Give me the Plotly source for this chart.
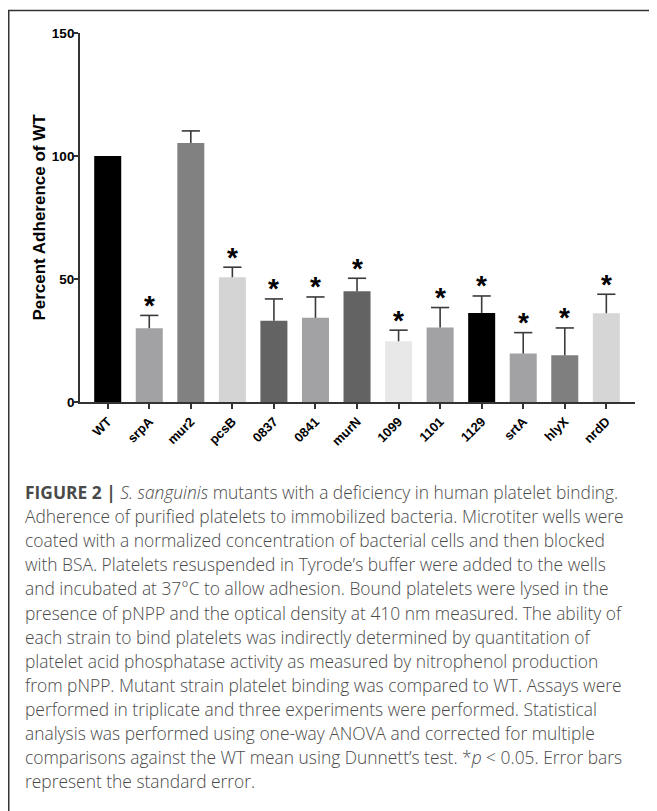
import plotly.graph_objects as go

strains = ["WT", "srpA", "mur2", "pcsB", "0837", "0841", "murN", "1099", "1101", "1129", "srtA", "hlyX", "nrdD"]
adherence = [100, 30, 105.3, 50.7, 33, 34.2, 45, 24.7, 30.3, 36.2, 19.7, 19, 36.1]
std_err = [0, 5.2, 4.9, 4.1, 8.9, 8.5, 5.3, 4.5, 8.1, 6.9, 8.5, 11.1, 7.7]
significant = [False, True, False, True, True, True, True, True, True, True, True, True, True]
bar_colors = ["#000000", "#a2a2a4", "#818181", "#d4d4d4", "#636363", "#a2a2a4", "#636363",
              "#e8e8e8", "#a2a2a4", "#000000", "#a2a2a4", "#7f7f7f", "#d6d6d6"]
y_ticks = [0, 50, 100, 150]
y_title = "Percent Adherence of WT"

caption_lines = [
    "<b>FIGURE 2 |</b> <i>S. sanguinis</i> mutants with a deficiency in human platelet binding.",
    "Adherence of purified platelets to immobilized bacteria. Microtiter wells were",
    "coated with a normalized concentration of bacterial cells and then blocked",
    "with BSA. Platelets resuspended in Tyrode\u2019s buffer were added to the wells",
    "and incubated at 37\u00b0C to allow adhesion. Bound platelets were lysed in the",
    "presence of pNPP and the optical density at 410 nm measured. The ability of",
    "each strain to bind platelets was indirectly determined by quantitation of",
    "platelet acid phosphatase activity as measured by nitrophenol production",
    "from pNPP. Mutant strain platelet binding was compared to WT. Assays were",
    "performed in triplicate and three experiments were performed. Statistical",
    "analysis was performed using one-way ANOVA and corrected for multiple",
    "comparisons against the WT mean using Dunnett\u2019s test. *<i>p</i> &lt; 0.05. Error bars",
    "represent the standard error.",
]

# page geometry (browser body has an 8px default margin)
OFF = 8
PAGE_W, PAGE_H = 657, 811
W, H = PAGE_W - OFF, PAGE_H - OFF
L, R, T, B = 80, 635, 33, 402  # plot area, page pixels
pw, ph = R - L, B - T

def px_x(px):
    return (px - L) / pw

def px_y(py):
    return (B - py) / ph

AX = "#333333"
fig = go.Figure()
fig.add_trace(go.Bar(
    x=strains, y=adherence, width=0.65,
    marker=dict(color=bar_colors, line=dict(width=0)),
    error_y=dict(type="data", symmetric=False, array=std_err, arrayminus=[0] * len(std_err),
                 color="#3a3a3a", thickness=1.6, width=0),
    showlegend=False, hoverinfo="x+y",
))

cx = [s for s, e in zip(strains, std_err) if e > 0]
cy = [a + e for a, e in zip(adherence, std_err) if e > 0]
fig.add_trace(go.Scatter(
    x=cx, y=cy, mode="markers",
    marker=dict(symbol="line-ew", size=13, line=dict(width=1.6, color="#3a3a3a")),
    showlegend=False, hoverinfo="skip", cliponaxis=False,
))

annotations = []
for i, (a, e, f) in enumerate(zip(adherence, std_err, significant)):
    if f:
        annotations.append(dict(
            x=i, y=a + e, xref="x", yref="y", text="*", showarrow=False,
            xanchor="center", yanchor="middle", yshift=10,
            font=dict(family="Liberation Sans", size=28, color="#000000", weight="bold"),
        ))

y0 = 492
for i, line in enumerate(caption_lines):
    annotations.append(dict(
        x=px_x(23), y=px_y(y0 + i * 24.1), xref="paper", yref="paper",
        xanchor="left", yanchor="middle", showarrow=False, align="left",
        text=line, font=dict(family="Open Sans", size=17.4, color="#4a4a4a", weight=300),
    ))

shapes = [dict(type="rect", xref="paper", yref="paper",
               x0=px_x(OFF + 0.75), x1=px_x(PAGE_W + 5), y0=px_y(OFF + 2.5), y1=px_y(PAGE_H + 5),
               line=dict(color="#333333", width=1.5), layer="below")]

fig.update_layout(
    width=W, height=H,
    margin=dict(l=L - OFF, r=PAGE_W - R, t=T - OFF, b=PAGE_H - B, pad=0),
    paper_bgcolor="white", plot_bgcolor="white",
    font=dict(family="Liberation Sans", color="#000000"),
    xaxis=dict(
        type="category", categoryorder="array", categoryarray=strains,
        range=[-0.667, 12.69], showline=True, linecolor=AX, linewidth=1.8,
        ticks="outside", ticklen=5, tickwidth=1.5, tickcolor=AX,
        tickangle=-45, tickfont=dict(size=13, family="Liberation Sans", weight="bold"),
        showgrid=False, zeroline=False, fixedrange=True,
    ),
    yaxis=dict(
        range=[0, 150], tickvals=y_ticks, showline=True, linecolor=AX, linewidth=1.8,
        ticks="outside", ticklen=4, tickwidth=1.5, tickcolor=AX, ticklabelstandoff=-3,
        tickfont=dict(size=13.5, family="Liberation Sans", weight="bold"),
        showgrid=False, zeroline=False, fixedrange=True,
        title=dict(text=y_title, font=dict(size=17, family="Liberation Sans", weight="bold"), standoff=2),
    ),
    annotations=annotations, shapes=shapes,
)

fig.write_html("out.html")
